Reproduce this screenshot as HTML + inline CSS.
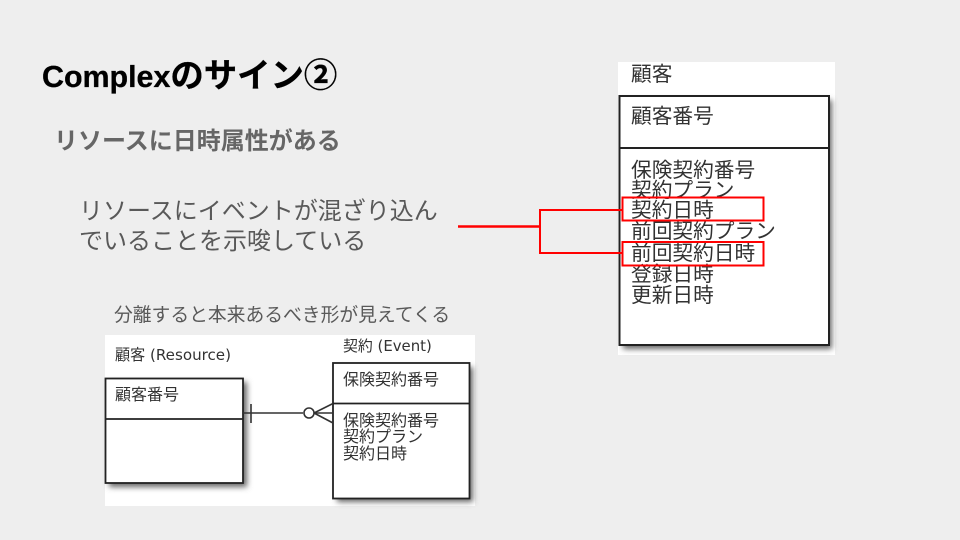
<!DOCTYPE html>
<html><head><meta charset="utf-8"><style>
html,body{margin:0;padding:0;background:#eeeeee}
svg{display:block}
.s{font-family:"Liberation Sans","Noto Sans CJK JP",sans-serif}
.d{font-family:"DejaVu Sans","Noto Sans CJK JP",sans-serif;fill:#333}
</style></head><body>
<svg width="960" height="540" viewBox="0 0 960 540" xmlns="http://www.w3.org/2000/svg">
<defs>
<filter id="b" x="-10%" y="-10%" width="120%" height="120%"><feGaussianBlur stdDeviation="3"/></filter>
<filter id="t" x="-5%" y="-5%" width="110%" height="110%"><feGaussianBlur stdDeviation="0.35"/></filter>
</defs>
<rect width="960" height="540" fill="#eeeeee"/>
<text class="s" x="42" y="87" font-size="30.400" font-weight="700" fill="#000" stroke="#000" stroke-width="0.3">Complex<tspan font-size="33.400">のサイン②</tspan></text>
<text class="s" x="54" y="149" font-size="24" font-weight="700" fill="#666">リソースに日時属性がある</text>
<text class="s" x="79" y="219" font-size="24" fill="#595959">リソースにイベントが混ざり込ん</text>
<text class="s" x="79" y="249" font-size="24" fill="#595959">でいることを示唆している</text>
<text class="s" x="114" y="321" font-size="18.800" fill="#595959">分離すると本来あるべき形が見えてくる</text>

<rect x="618" y="62" width="217" height="293" fill="#fff"/>
<rect x="623" y="100" width="209" height="249" fill="#666" filter="url(#b)"/>
<rect x="618" y="62" width="1" height="293" fill="#fff"/>
<g filter="url(#t)">
<rect x="619.500" y="96" width="209.500" height="249" fill="#fff" stroke="#222" stroke-width="2"/>
<line x1="619" y1="148" x2="829" y2="148" stroke="#222" stroke-width="2"/>
<g class="d" font-size="20.700">
<text x="631" y="81">顧客</text>
<text x="631" y="123">顧客番号</text>
<text x="631" y="177">保険契約番号</text>
<text x="631" y="197">契約プラン</text>
<text x="631" y="217">契約日時</text>
<text x="631" y="238">前回契約プラン</text>
<text x="631" y="260">前回契約日時</text>
<text x="631" y="281">登録日時</text>
<text x="631" y="302">更新日時</text>
</g>
</g>
<rect x="622.500" y="197.500" width="141" height="23" fill="none" stroke="#f00" stroke-width="2"/>
<rect x="622.500" y="242" width="141" height="23.500" fill="none" stroke="#f00" stroke-width="2"/>
<path d="M622 210H540V253H622" fill="none" stroke="#f00" stroke-width="2"/>
<line x1="458" y1="226.500" x2="540" y2="226.500" stroke="#f00" stroke-width="2.500"/>

<rect x="105" y="335" width="370" height="171" fill="#fff"/>
<rect x="109" y="382" width="138" height="105" fill="#666" filter="url(#b)"/>
<rect x="337" y="367" width="136" height="135" fill="#666" filter="url(#b)"/>
<g filter="url(#t)">
<rect x="105.500" y="378.500" width="137.500" height="104.500" fill="#fff" stroke="#222" stroke-width="1.800"/>
<line x1="105" y1="419" x2="243" y2="419" stroke="#222" stroke-width="1.800"/>
<rect x="333" y="363" width="136.500" height="135.500" fill="#fff" stroke="#222" stroke-width="1.800"/>
<line x1="333" y1="403.500" x2="470" y2="403.500" stroke="#222" stroke-width="1.800"/>
<g stroke="#333" stroke-width="1.600" fill="none">
<line x1="243" y1="413" x2="303" y2="413"/>
<line x1="251" y1="404" x2="251" y2="423"/>
<circle cx="309" cy="413" r="5" fill="#fff"/>
<line x1="314" y1="413" x2="333" y2="403.500"/>
<line x1="314" y1="413" x2="333" y2="413"/>
<line x1="314" y1="413" x2="333" y2="423"/>
</g>
<g class="d" font-size="16">
<text x="115" y="360" font-size="15.100">顧客 (Resource)</text>
<text x="343" y="351" font-size="14.900">契約 (Event)</text>
<text x="115" y="400">顧客番号</text>
<text x="343" y="385">保険契約番号</text>
<text x="343" y="426">保険契約番号</text>
<text x="343" y="442">契約プラン</text>
<text x="343" y="459">契約日時</text>
</g>
</g>
</svg>
</body></html>
